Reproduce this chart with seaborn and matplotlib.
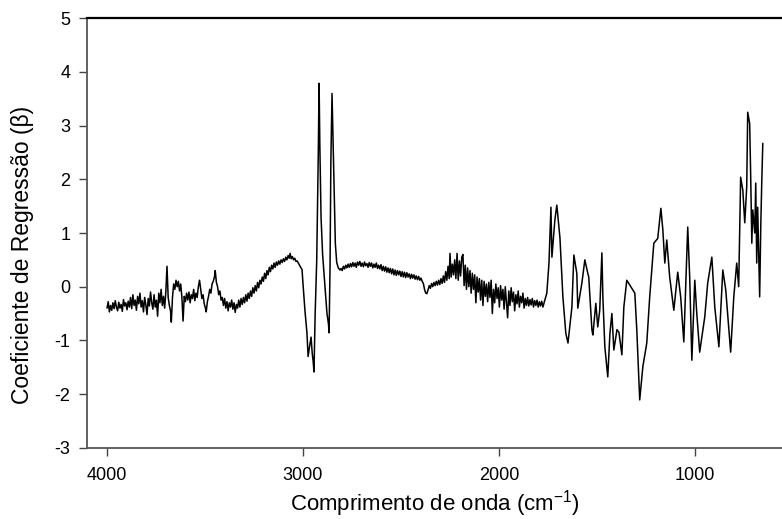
import numpy as np
import pandas as pd
import matplotlib
matplotlib.use("Agg")
import matplotlib.pyplot as plt
import seaborn as sns

# ---- data (wavenumber in cm^-1, regression coefficient beta) ----
# region A: 4000-3012 cm-1 (noisy O-H / N-H region)
wn_a = [4000, 3994, 3988, 3982, 3976, 3970, 3964, 3958, 3952, 3946,
        3940, 3934, 3928, 3922, 3916, 3910, 3904, 3898, 3892, 3886,
        3880, 3874, 3868, 3862, 3856, 3850, 3844, 3838, 3832, 3826,
        3820, 3814, 3808, 3802, 3796, 3790, 3784, 3778, 3772, 3766,
        3760, 3754, 3748, 3742, 3736, 3730, 3724, 3718, 3712, 3706,
        3700, 3694, 3688, 3682, 3676, 3672, 3666, 3660, 3654, 3648,
        3642, 3636, 3630, 3624, 3618, 3612, 3606, 3600, 3594, 3588,
        3582, 3576, 3570, 3564, 3558, 3552, 3546, 3540, 3534, 3528,
        3522, 3516, 3510, 3504, 3498, 3494, 3488, 3482, 3476, 3470,
        3464, 3458, 3452, 3448, 3442, 3436, 3430, 3424, 3418, 3412,
        3406, 3400, 3394, 3388, 3382, 3376, 3370, 3364, 3358, 3352,
        3346, 3340, 3334, 3328, 3322, 3316, 3310, 3304, 3298, 3292,
        3286, 3280, 3274, 3268, 3262, 3256, 3250, 3244, 3238, 3232,
        3226, 3220, 3214, 3208, 3202, 3196, 3190, 3184, 3178, 3172,
        3166, 3160, 3154, 3148, 3142, 3136, 3130, 3124, 3118, 3112,
        3106, 3100, 3094, 3088, 3082, 3076, 3070, 3066, 3060, 3054,
        3048, 3042, 3036, 3030, 3024, 3018, 3012]
beta_a = [-0.40, -0.28, -0.47, -0.35, -0.44, -0.30, -0.41, -0.26, -0.38, -0.45,
          -0.29, -0.40, -0.33, -0.46, -0.24, -0.36, -0.30, -0.43, -0.27, -0.38,
          -0.20, -0.41, -0.15, -0.35, -0.25, -0.44, -0.18, -0.32, -0.12, -0.38,
          -0.26, -0.47, -0.20, -0.34, -0.52, -0.22, -0.36, -0.10, -0.30, -0.42,
          -0.15, -0.38, -0.25, -0.55, -0.12, -0.30, -0.05, -0.35, -0.18, -0.40,
          -0.10, 0.38, -0.20, -0.35, -0.45, -0.66, -0.20, 0.05, -0.05, 0.12,
          0.00, 0.10, -0.08, 0.05, -0.20, -0.64, -0.18, -0.28, -0.12, -0.25,
          -0.10, -0.30, -0.15, -0.22, -0.05, -0.26, -0.12, -0.20, 0.00, 0.12,
          -0.05, -0.22, -0.15, -0.32, -0.40, -0.47, -0.28, -0.18, -0.05, -0.12,
          0.05, 0.10, 0.18, 0.30, 0.08, 0.00, -0.15, -0.08, -0.25, -0.20,
          -0.35, -0.22, -0.40, -0.28, -0.45, -0.30, -0.38, -0.25, -0.42, -0.30,
          -0.48, -0.33, -0.40, -0.25, -0.38, -0.22, -0.33, -0.20, -0.30, -0.15,
          -0.27, -0.12, -0.22, -0.08, -0.18, -0.02, -0.12, 0.02, -0.08, 0.08,
          -0.02, 0.12, 0.05, 0.18, 0.10, 0.25, 0.15, 0.30, 0.22, 0.36,
          0.28, 0.40, 0.33, 0.44, 0.36, 0.46, 0.40, 0.48, 0.42, 0.50,
          0.45, 0.52, 0.47, 0.55, 0.50, 0.58, 0.53, 0.62, 0.52, 0.56,
          0.50, 0.53, 0.47, 0.48, 0.44, 0.40, 0.36]

# region B: 3005-2811 cm-1 (C-H stretching bands)
wn_b = [3005, 3000, 2990, 2980, 2974, 2966, 2959, 2953, 2948, 2944, 2938, 2930, 2922, 2918,
        2914, 2908, 2900, 2890, 2878, 2870, 2867, 2862, 2858, 2852, 2846, 2842, 2835, 2828,
        2820, 2811]
beta_b = [0.32, 0.05, -0.45, -0.86, -1.30, -1.10, -0.94, -1.24, -1.40, -1.59, -0.50, 0.50,
          2.50, 3.79, 2.60, 1.30, 0.60, 0.10, -0.49, -0.70, -0.86, 0.40, 2.30, 3.60, 2.60,
          1.86, 0.80, 0.45, 0.35, 0.31]

# region C: 2806-1770 cm-1
wn_c = [2806, 2800, 2794, 2788, 2782, 2776, 2770, 2764, 2758, 2752,
        2746, 2740, 2734, 2728, 2722, 2716, 2710, 2704, 2698, 2692,
        2686, 2680, 2674, 2668, 2662, 2656, 2650, 2644, 2638, 2632,
        2626, 2620, 2614, 2608, 2602, 2596, 2590, 2584, 2578, 2572,
        2566, 2560, 2554, 2548, 2542, 2536, 2530, 2524, 2518, 2512,
        2506, 2500, 2494, 2488, 2482, 2476, 2470, 2464, 2458, 2452,
        2446, 2440, 2434, 2428, 2422, 2416, 2410, 2404, 2398, 2392,
        2386, 2380, 2374, 2368, 2362, 2356, 2350, 2344, 2338, 2332,
        2326, 2320, 2314, 2308, 2302, 2296, 2290, 2284, 2278, 2272,
        2266, 2260, 2254, 2250, 2244, 2238, 2232, 2226, 2220, 2214,
        2208, 2202, 2196, 2190, 2184, 2178, 2172, 2166, 2160, 2154,
        2148, 2142, 2136, 2130, 2124, 2118, 2112, 2106, 2100, 2094,
        2088, 2082, 2076, 2070, 2064, 2058, 2052, 2046, 2040, 2034,
        2028, 2022, 2016, 2010, 2004, 1998, 1992, 1986, 1980, 1974,
        1968, 1962, 1956, 1950, 1944, 1938, 1932, 1926, 1920, 1914,
        1908, 1902, 1896, 1890, 1884, 1878, 1872, 1866, 1860, 1854,
        1848, 1842, 1836, 1830, 1824, 1818, 1812, 1806, 1800, 1794,
        1788, 1782, 1776, 1770]
beta_c = [0.34, 0.30, 0.38, 0.33, 0.40, 0.35, 0.42, 0.36, 0.43, 0.37,
          0.45, 0.38, 0.44, 0.36, 0.46, 0.40, 0.47, 0.38, 0.44, 0.37,
          0.46, 0.39, 0.43, 0.36, 0.45, 0.38, 0.44, 0.35, 0.42, 0.36,
          0.44, 0.34, 0.40, 0.33, 0.41, 0.30, 0.38, 0.29, 0.37, 0.27,
          0.35, 0.26, 0.34, 0.24, 0.33, 0.22, 0.31, 0.21, 0.30, 0.22,
          0.29, 0.19, 0.28, 0.18, 0.27, 0.17, 0.26, 0.18, 0.24, 0.15,
          0.23, 0.16, 0.22, 0.14, 0.20, 0.13, 0.19, 0.12, 0.16, 0.10,
          0.06, -0.05, -0.12, -0.13, -0.06, 0.02, -0.03, 0.06, 0.00, 0.08,
          0.02, 0.10, 0.03, 0.12, 0.04, 0.15, 0.06, 0.20, 0.08, 0.28,
          0.12, 0.38, 0.15, 0.62, 0.18, 0.42, 0.22, 0.50, 0.15, 0.62,
          0.12, 0.48, 0.20, 0.55, 0.60, 0.02, 0.40, -0.05, 0.35, 0.00,
          0.30, -0.12, 0.25, -0.05, 0.22, -0.30, 0.18, -0.10, 0.15, -0.25,
          0.12, -0.35, 0.10, -0.18, 0.05, -0.28, 0.08, -0.20, 0.12, -0.50,
          -0.05, -0.30, 0.05, -0.22, -0.02, -0.38, 0.02, -0.25, -0.05, -0.42,
          0.00, -0.30, -0.58, -0.08, -0.35, -0.02, -0.28, -0.10, -0.45, -0.15,
          -0.32, -0.08, -0.38, -0.18, -0.30, -0.12, -0.40, -0.22, -0.35, -0.20,
          -0.36, -0.24, -0.34, -0.22, -0.38, -0.26, -0.35, -0.25, -0.38, -0.28,
          -0.36, -0.27, -0.38, -0.30]

# region D: 1756-654 cm-1 (fingerprint region)
wn_d = [1756, 1745, 1735, 1730, 1715, 1705, 1689, 1674, 1659, 1648, 1628, 1618, 1603, 1598,
        1577, 1562, 1547, 1542, 1526, 1521, 1506, 1496, 1486, 1475, 1470, 1460, 1445, 1434,
        1424, 1414, 1398, 1388, 1373, 1363, 1348, 1322, 1307, 1297, 1282, 1266, 1246, 1231,
        1210, 1190, 1174, 1164, 1154, 1144, 1129, 1108, 1088, 1073, 1057, 1037, 1027, 1016,
        1001, 991, 976, 950, 935, 914, 899, 878, 858, 843, 818, 802, 787, 777, 767, 756,
        746, 736, 731, 721, 716, 710, 705, 695, 690, 685, 680, 670, 664, 659, 654]
beta_d = [-0.12, 0.44, 1.48, 0.55, 1.24, 1.52, 0.91, -0.19, -0.87, -1.05, -0.38, 0.59, 0.25,
          -0.40, 0.07, 0.50, 0.25, 0.18, -0.80, -0.90, -0.31, -0.75, -0.44, 0.63, -0.19, -1.12,
          -1.68, -0.87, -0.50, -1.18, -0.80, -0.85, -1.27, -0.38, 0.12, -0.03, -0.12, -0.80,
          -2.11, -1.49, -1.05, -0.19, 0.81, 0.90, 1.46, 1.06, 0.44, 0.87, 0.18, -0.44, 0.27,
          -0.19, -1.03, 1.11, 0.18, -1.37, 0.12, -0.49, -1.22, -0.56, 0.07, 0.55, -0.38, -1.12,
          0.31, -0.06, -1.22, -0.19, 0.44, 0.00, 2.04, 1.80, 1.19, 1.86, 3.25, 3.04, 2.11, 0.81,
          1.43, 1.00, 1.93, 0.44, 1.48, -0.19, 1.19, 1.99, 2.67]

x_ticks = [4000, 3000, 2000, 1000]
y_ticks = [-3, -2, -1, 0, 1, 2, 3, 4, 5]
x_label = "Comprimento de onda (cm$^{-1}$)"
y_label = "Coeficiente de Regressão (β)"

for w, b in [(wn_a, beta_a), (wn_b, beta_b), (wn_c, beta_c), (wn_d, beta_d)]:
    assert len(w) == len(b), (len(w), len(b))

df = pd.DataFrame({
    "wn": wn_a + wn_b + wn_c + wn_d,
    "beta": beta_a + beta_b + beta_c + beta_d,
})

sns.set_theme(style="white")
plt.rcParams["font.family"] = ["Liberation Sans", "DejaVu Sans"]
plt.rcParams["mathtext.fontset"] = "custom"
plt.rcParams["mathtext.rm"] = "Liberation Sans"
plt.rcParams["mathtext.it"] = "Liberation Sans"

fig = plt.figure(figsize=(7.82, 5.19), dpi=100)
ax = fig.add_axes([0.1113, 0.1374, 0.8887, 0.8273])

sns.lineplot(data=df, x="wn", y="beta", ax=ax, color="black", linewidth=1.1,
             estimator=None, sort=False)

ax.set_xlim(4102, 556)
ax.set_ylim(-3, 5)
ax.set_xticks(x_ticks)
ax.set_yticks(y_ticks)
ax.set_xticklabels([str(t) for t in x_ticks])
ax.set_yticklabels([str(t) for t in y_ticks])

ax.tick_params(axis="both", direction="out", length=6, width=1.0, color="#444444",
               labelsize=13, labelcolor="black")
ax.tick_params(axis="x", pad=8, bottom=True)
ax.tick_params(axis="y", pad=6, left=True)

for s in ["left", "bottom"]:
    ax.spines[s].set_color("#555555")
    ax.spines[s].set_linewidth(1.3)
ax.spines["top"].set_color("black")
ax.spines["top"].set_linewidth(1.6)
ax.spines["right"].set_visible(False)

ax.set_xlabel(x_label, fontsize=16, color="black")
ax.set_ylabel(y_label, fontsize=16.5, color="black")
ax.xaxis.set_label_coords(0.5, -0.093)
ax.yaxis.set_label_coords(-0.077, 0.45)

fig.savefig("out.png", dpi=100)
